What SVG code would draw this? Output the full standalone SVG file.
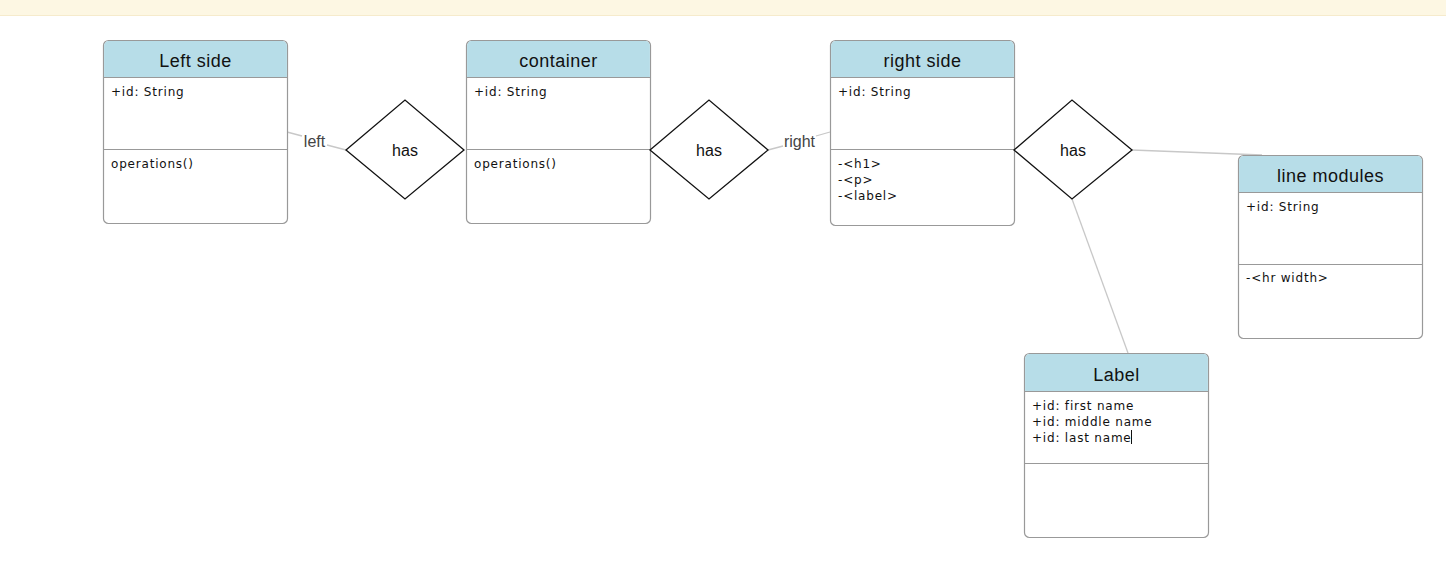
<svg xmlns="http://www.w3.org/2000/svg" width="1446" height="577" viewBox="0 0 1446 577">
<style>
.box{fill:#fff;stroke:#999;stroke-width:1.2}
.hdr{fill:#b7dde8}
.div{stroke:#999;stroke-width:1.2}
.title{font-family:"Liberation Sans",Arial,sans-serif;font-size:18px;letter-spacing:0.5px;fill:#111;text-anchor:middle}
.attr{font-family:"DejaVu Sans",Verdana,sans-serif;font-size:12px;letter-spacing:0.8px;fill:#111}
.dia{fill:#fff;stroke:#111;stroke-width:1.3}
.dlbl{font-family:"Liberation Sans",Arial,sans-serif;font-size:16px;fill:#111;text-anchor:middle}
.conn{stroke:#c8c8c8;stroke-width:1.3;fill:none}
.clbl{font-family:"Liberation Sans",Arial,sans-serif;font-size:16px;fill:#444;text-anchor:middle}
</style>
<rect x="0" y="0" width="1446" height="577" fill="#fff"/>
<rect x="0" y="0" width="1446" height="15" fill="#fdf7e3"/>
<line x1="0" y1="15.5" x2="1446" y2="15.5" stroke="#f6ebcc" stroke-width="1"/>

<g id="connectors">
  <line class="conn" x1="287" y1="132" x2="302" y2="136"/>
  <line class="conn" x1="327" y1="145" x2="346" y2="150"/>
  <text class="clbl" x="314.5" y="147">left</text>
  <line class="conn" x1="768" y1="150" x2="783" y2="146"/>
  <line class="conn" x1="816" y1="136" x2="830" y2="132"/>
  <text class="clbl" x="799.5" y="147">right</text>
  <line class="conn" x1="1132" y1="150" x2="1262" y2="155"/>
  <line class="conn" x1="1072" y1="199" x2="1128" y2="353"/>
</g>

<g id="left-side">
  <rect class="box" x="103.5" y="40.5" width="184" height="183" rx="5"/>
  <path class="hdr" d="M108.5 41.1 H282.5 A4.4 4.4 0 0 1 286.9 45.5 V77 H104.1 V45.5 A4.4 4.4 0 0 1 108.5 41.1 Z"/>
  <line class="div" x1="103.5" y1="77.5" x2="287.5" y2="77.5"/>
  <line class="div" x1="103.5" y1="149.5" x2="287.5" y2="149.5"/>
  <text class="title" x="195.5" y="67">Left side</text>
  <text class="attr" x="111" y="96">+id: String</text>
  <text class="attr" x="111" y="168">operations()</text>
</g>

<g id="container">
  <rect class="box" x="466.5" y="40.5" width="184" height="183" rx="5"/>
  <path class="hdr" d="M471.5 41.1 H645.5 A4.4 4.4 0 0 1 649.9 45.5 V77 H467.1 V45.5 A4.4 4.4 0 0 1 471.5 41.1 Z"/>
  <line class="div" x1="466.5" y1="77.5" x2="650.5" y2="77.5"/>
  <line class="div" x1="466.5" y1="149.5" x2="650.5" y2="149.5"/>
  <text class="title" x="558.5" y="67">container</text>
  <text class="attr" x="474" y="96">+id: String</text>
  <text class="attr" x="474" y="168">operations()</text>
</g>

<g id="right-side">
  <rect class="box" x="830.5" y="40.5" width="184" height="185" rx="5"/>
  <path class="hdr" d="M835.5 41.1 H1009.5 A4.4 4.4 0 0 1 1013.9 45.5 V77 H831.1 V45.5 A4.4 4.4 0 0 1 835.5 41.1 Z"/>
  <line class="div" x1="830.5" y1="77.5" x2="1014.5" y2="77.5"/>
  <line class="div" x1="830.5" y1="149.5" x2="1014.5" y2="149.5"/>
  <text class="title" x="922.5" y="67">right side</text>
  <text class="attr" x="838" y="96">+id: String</text>
  <text class="attr" x="838" y="168">-&lt;h1&gt;</text>
  <text class="attr" x="838" y="184">-&lt;p&gt;</text>
  <text class="attr" x="838" y="200">-&lt;label&gt;</text>
</g>

<g id="line-modules">
  <rect class="box" x="1238.5" y="155.5" width="184" height="183" rx="5"/>
  <path class="hdr" d="M1243.5 156.1 H1417.5 A4.4 4.4 0 0 1 1421.9 160.5 V192 H1239.1 V160.5 A4.4 4.4 0 0 1 1243.5 156.1 Z"/>
  <line class="div" x1="1238.5" y1="192.5" x2="1422.5" y2="192.5"/>
  <line class="div" x1="1238.5" y1="264.5" x2="1422.5" y2="264.5"/>
  <text class="title" x="1330.5" y="182">line modules</text>
  <text class="attr" x="1246" y="211">+id: String</text>
  <text class="attr" x="1246" y="282">-&lt;hr width&gt;</text>
</g>

<g id="label">
  <rect class="box" x="1024.5" y="353.5" width="184" height="184" rx="5"/>
  <path class="hdr" d="M1029.5 354.1 H1203.5 A4.4 4.4 0 0 1 1207.9 358.5 V391 H1025.1 V358.5 A4.4 4.4 0 0 1 1029.5 354.1 Z"/>
  <line class="div" x1="1024.5" y1="391.5" x2="1208.5" y2="391.5"/>
  <line class="div" x1="1024.5" y1="463.5" x2="1208.5" y2="463.5"/>
  <text class="title" x="1116.5" y="381">Label</text>
  <text class="attr" x="1032" y="410">+id: first name</text>
  <text class="attr" x="1032" y="426">+id: middle name</text>
  <text class="attr" x="1032" y="442">+id: last name</text>
  <line x1="1131.5" y1="430" x2="1131.5" y2="444" stroke="#111" stroke-width="1"/>
</g>

<g id="has-1">
  <polygon class="dia" points="346,150 405,100 464,150 405,199"/>
  <text class="dlbl" x="405" y="156">has</text>
</g>
<g id="has-2">
  <polygon class="dia" points="650,150 709,100 768,150 709,199"/>
  <text class="dlbl" x="709" y="156">has</text>
</g>
<g id="has-3">
  <polygon class="dia" points="1014,150 1072,100 1132,150 1072,199"/>
  <text class="dlbl" x="1073" y="156">has</text>
</g>
</svg>
